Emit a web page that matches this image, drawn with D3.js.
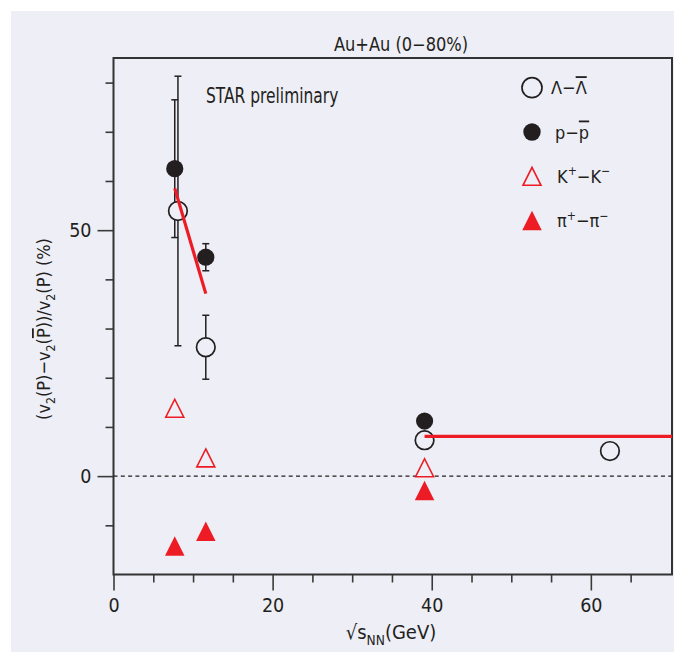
<!DOCTYPE html>
<html>
<head>
<meta charset="utf-8">
<script src="https://cdn.jsdelivr.net/npm/d3@7"></script>
<style>
  html, body { margin: 0; padding: 0; background: #ffffff; }
  svg { display: block; }
  text { fill: #231f20; font-family: "Liberation Sans Narrow", "DejaVu Sans Condensed", "Arial Narrow", sans-serif; }
</style>
</head>
<body>
<svg id="chart" width="685" height="663"></svg>
<script>
// Relative v2 difference between particles and antiparticles vs collision energy
const title = "Au+Au (0\u221280%)";
const note = "STAR preliminary";

const xMajorTicks = [0, 20, 40, 60];
const xMinorTicks = [5, 10, 15, 25, 30, 35, 45, 50, 55, 65];
const yMajorTicks = [0, 50];
const yMinorTicks = [-10, 10, 20, 30, 40, 60, 70, 80];

// Lambda - anti-Lambda (open circles)
const lambdaX = [8.1, 11.6, 39.1, 62.4];
const lambdaY = [53.9, 26.2, 7.3, 5.1];
const lambdaErr = [27.4, 6.5, 0, 0];

// p - anti-p (filled circles)
const protonX = [7.7, 11.6, 39.1];
const protonY = [62.5, 44.5, 11.2];
const protonErr = [14.0, 2.75, 0];

// K+ - K- (open triangles)
const kaonX = [7.7, 11.6, 39.1];
const kaonY = [13.8, 3.7, 1.7];

// pi+ - pi- (filled triangles)
const pionX = [7.7, 11.6, 39.1];
const pionY = [-14.2, -11.2, -2.9];

// Red trend lines
const fitLowX = [7.7, 11.6];
const fitLowY = [58.5, 37.1];
const fitHighX = [39.1, 70.2];
const fitHighY = [8.1, 8.1];

const bg = "#eeeef6";
const ink = "#231f20";
const red = "#ed1c24";

const svg = d3.select("#chart");
svg.append("rect").attr("x", 11).attr("y", 11).attr("width", 663).attr("height", 641).attr("fill", bg);

const plotL = 113.5, plotR = 672, plotT = 58, plotB = 574.5;
const x = d3.scaleLinear().domain([0, 70.2]).range([plotL, plotR]);
const y = d3.scaleLinear().domain([-20, 85]).range([plotB, plotT]);

// Rich text helper: parts with optional sub / sup / over
function rich(sel, parts, size) {
  let off = 0;
  parts.forEach(p => {
    const ts = sel.append("tspan").text(p.t);
    const target = p.sub ? size * 0.3 : p.sup ? -size * 0.42 : 0;
    if (target !== off) ts.attr("dy", target - off);
    off = target;
    if (p.sub || p.sup) ts.attr("font-size", size * 0.68);
    if (p.over) ts.style("text-decoration", "overline");
  });
}

// Axes
const axisStyle = g => {
  g.select(".domain").remove();
  g.selectAll("line").attr("stroke", "#3a3a3a").attr("stroke-width", 1.6);
  g.selectAll("text").attr("font-size", 19.5).attr("fill", ink)
    .style("font-family", "'Liberation Sans Narrow','DejaVu Sans Condensed',sans-serif");
};

svg.append("g").attr("transform", `translate(0,${plotB})`)
  .call(d3.axisBottom(x).tickValues(xMinorTicks).tickSize(8).tickFormat(""))
  .call(axisStyle);
svg.append("g").attr("transform", `translate(0,${plotB})`)
  .call(d3.axisBottom(x).tickValues(xMajorTicks).tickSize(16).tickPadding(8).tickFormat(d3.format("d")))
  .call(axisStyle);

svg.append("g").attr("transform", `translate(${plotL},0)`)
  .call(d3.axisLeft(y).tickValues(yMinorTicks).tickSize(8).tickFormat(""))
  .call(axisStyle);
svg.append("g").attr("transform", `translate(${plotL},0)`)
  .call(d3.axisLeft(y).tickValues(yMajorTicks).tickSize(16).tickPadding(6).tickFormat(d3.format("d")))
  .call(axisStyle);

// Frame
svg.append("rect").attr("x", plotL).attr("y", plotT)
  .attr("width", plotR - plotL).attr("height", plotB - plotT)
  .attr("fill", "none").attr("stroke", "#333").attr("stroke-width", 2);

// Zero line
svg.append("line").attr("x1", x(0)).attr("x2", plotR).attr("y1", y(0)).attr("y2", y(0))
  .attr("stroke", ink).attr("stroke-width", 1.3).attr("stroke-dasharray", "4,3.3");

// Title and note (condensed horizontally)
svg.append("text").attr("transform", "translate(401,51) scale(0.95,1)").attr("text-anchor", "middle")
  .attr("font-size", 19).text(title);
svg.append("text").attr("transform", "translate(206,103) scale(0.84,1)").attr("font-size", 20.5).text(note);

// Axis titles
const yl = svg.append("text").attr("transform", "translate(50,329) rotate(-90)")
  .attr("text-anchor", "middle").attr("font-size", 18);
rich(yl, [
  { t: "(v" }, { t: "2", sub: true }, { t: "(P)\u2212v" }, { t: "2", sub: true },
  { t: "(" }, { t: "P", over: true }, { t: "))/v" }, { t: "2", sub: true }, { t: "(P) (%)" }
], 18);

const xl = svg.append("text").attr("x", 391).attr("y", 639).attr("text-anchor", "middle").attr("font-size", 20);
rich(xl, [{ t: "\u221As" }, { t: "NN", sub: true }, { t: "(GeV)" }], 20);

// Error bars
function errorBars(xs, ys, es) {
  const d = xs.map((v, i) => ({ x: v, y: ys[i], e: es[i] })).filter(d => d.e > 0);
  const g = svg.append("g").attr("stroke", ink).attr("stroke-width", 1.5);
  g.selectAll(".v").data(d).join("line")
    .attr("x1", d => x(d.x)).attr("x2", d => x(d.x))
    .attr("y1", d => y(d.y + d.e)).attr("y2", d => y(d.y - d.e));
  [1, -1].forEach(s => {
    g.selectAll(null).data(d).join("line")
      .attr("x1", d => x(d.x) - 3.5).attr("x2", d => x(d.x) + 3.5)
      .attr("y1", d => y(d.y + s * d.e)).attr("y2", d => y(d.y + s * d.e));
  });
}
errorBars(protonX, protonY, protonErr);
errorBars(lambdaX, lambdaY, lambdaErr);

const tri = (cx, cy, s) => `M${cx},${cy - s / 2}L${cx + s / 2},${cy + s / 2}L${cx - s / 2},${cy + s / 2}Z`;

// Open circles
svg.append("g").selectAll("circle").data(lambdaX.map((v, i) => [v, lambdaY[i]])).join("circle")
  .attr("cx", d => x(d[0])).attr("cy", d => y(d[1])).attr("r", 9.3)
  .attr("fill", bg).attr("stroke", ink).attr("stroke-width", 1.7);

// Red trend lines
const line = d3.line().x(d => x(d[0])).y(d => y(d[1]));
[[fitLowX, fitLowY], [fitHighX, fitHighY]].forEach(([xs, ys]) => {
  svg.append("path").attr("d", line(xs.map((v, i) => [v, ys[i]])))
    .attr("fill", "none").attr("stroke", red).attr("stroke-width", 3.2);
});

// Filled circles
svg.append("g").selectAll("circle").data(protonX.map((v, i) => [v, protonY[i]])).join("circle")
  .attr("cx", d => x(d[0])).attr("cy", d => y(d[1])).attr("r", 8.6).attr("fill", ink);

// Open triangles
svg.append("g").selectAll("path").data(kaonX.map((v, i) => [v, kaonY[i]])).join("path")
  .attr("d", d => tri(x(d[0]), y(d[1]), 18))
  .attr("fill", bg).attr("stroke", red).attr("stroke-width", 1.6).attr("stroke-linejoin", "miter");

// Filled triangles
svg.append("g").selectAll("path").data(pionX.map((v, i) => [v, pionY[i]])).join("path")
  .attr("d", d => tri(x(d[0]), y(d[1]), 19.5)).attr("fill", red);

// Legend
const legendLabels = [
  [{ t: "\u039B\u2212" }, { t: "\u039B", over: true }],
  [{ t: "p\u2212" }, { t: "p", over: true }],
  [{ t: "K" }, { t: "+", sup: true }, { t: "\u2212K" }, { t: "\u2212", sup: true }],
  [{ t: "\u03C0" }, { t: "+", sup: true }, { t: "\u2212\u03C0" }, { t: "\u2212", sup: true }]
];
const legendTextX = [551, 555, 557, 557];
const lx = 532, ly0 = 87.7, ldy = 44.3;
legendLabels.forEach((parts, i) => {
  const cy = ly0 + i * ldy;
  if (i === 0) svg.append("circle").attr("cx", lx).attr("cy", cy).attr("r", 10)
    .attr("fill", "none").attr("stroke", ink).attr("stroke-width", 1.7);
  if (i === 1) svg.append("circle").attr("cx", lx).attr("cy", cy).attr("r", 8.7).attr("fill", ink);
  if (i === 2) svg.append("path").attr("d", tri(lx, cy, 18)).attr("fill", "none")
    .attr("stroke", red).attr("stroke-width", 1.6);
  if (i === 3) svg.append("path").attr("d", tri(lx, cy, 19.5)).attr("fill", red);
  const t = svg.append("text").attr("x", legendTextX[i]).attr("y", cy + 6.5).attr("font-size", 18);
  rich(t, parts, 18);
});
</script>
</body>
</html>
